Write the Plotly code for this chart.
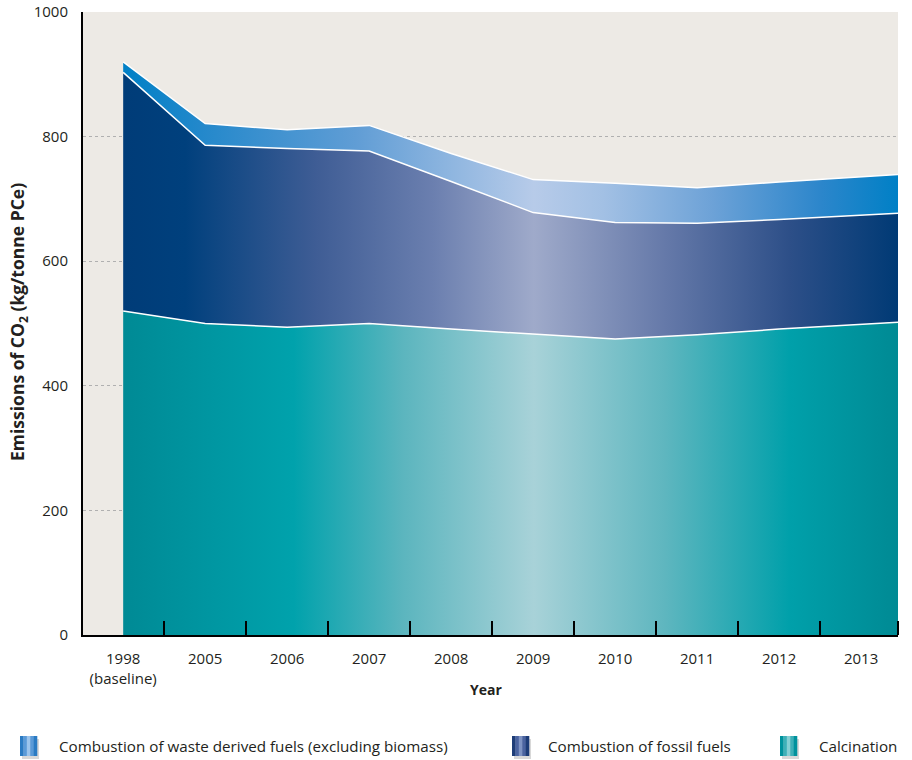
import plotly.graph_objects as go

# ---------------- data ----------------
year_labels = ["1998<br>(baseline)", "2005", "2006", "2007", "2008",
               "2009", "2010", "2011", "2012", "2013"]
x_pos = [0, 1, 2, 3, 4, 5, 6, 7, 8, 9.45]
calcination = [520, 500, 494, 500, 491, 483, 475, 482, 491, 502]
fossil_fuels = [383, 286, 287, 277, 237, 195, 187, 179, 176, 175]
waste_fuels = [17, 35, 30, 41, 45, 53, 63, 57, 60, 62]
y_ticks = [0, 200, 400, 600, 800, 1000]
legend_names = ["Combustion of waste derived fuels (excluding biomass)",
                "Combustion of fossil fuels", "Calcination"]

# ---------------- styling ----------------
W, H = 912, 760
L, R, T, B = 83, 14, 12, 125
PW, PH = W - L - R, H - T - B
FONT = "Open Sans"

calc_scale = [[0, '#008A95'], [0.12, '#0097A2'], [0.22, '#00A2AC'], [0.36, '#5BB5BE'],
              [0.53, '#A8D2D8'], [0.70, '#5EB6BF'], [0.86, '#00A0AA'], [1, '#008A94']]
fossil_scale = [[0, '#003C78'], [0.08, '#00407D'], [0.25, '#3F5D95'], [0.40, '#6B7FAF'],
                [0.53, '#9FAACA'], [0.70, '#6579A9'], [0.86, '#2D4F88'], [1, '#003A75']]
waste_scale = [[0, '#0080C6'], [0.10, '#2388CB'], [0.30, '#609DD5'], [0.53, '#B7CBE9'],
               [0.62, '#A2C0E4'], [0.76, '#6DA2D7'], [0.90, '#2C86CB'], [1, '#0080C6']]

fig = go.Figure()
for name, vals, scale in [(legend_names[2], calcination, calc_scale),
                          (legend_names[1], fossil_fuels, fossil_scale),
                          (legend_names[0], waste_fuels, waste_scale)]:
    fig.add_trace(go.Scatter(
        x=x_pos, y=vals, name=name, mode="lines", stackgroup="one",
        line=dict(color="white", width=1.5),
        fillgradient=dict(type="horizontal", colorscale=scale),
        showlegend=False, hoverinfo="skip"))

def px_x(p):
    return (p - L) / PW

def px_y(p):
    return (H - B - p) / PH

# custom legend
shapes = []
annotations = []
icon_specs = [
    (20, 57, legend_names[0], ['#2B7BC3', '#5A9AD8', '#9CC4EC', '#5A9AD8', '#2B7BC3']),
    (512, 546, legend_names[1], ['#1E3D78', '#4A63A0', '#7E93C3', '#4A63A0', '#1E3D78']),
    (780, 817, legend_names[2], ['#00929D', '#3DB0B8', '#86CFD4', '#3DB0B8', '#00929D']),
]
for ix, tx, label, cols in icon_specs:
    shapes.append(dict(type="rect", xref="paper", yref="paper",
                       x0=px_x(ix + 2), x1=px_x(ix + 19), y0=px_y(759), y1=px_y(739),
                       fillcolor="#D8D8D8", line=dict(width=0), layer="above"))
    n = len(cols)
    wseg = 17 / n
    for k, c in enumerate(cols):
        shapes.append(dict(type="rect", xref="paper", yref="paper",
                           x0=px_x(ix + k * wseg), x1=px_x(ix + (k + 1) * wseg + 0.3),
                           y0=px_y(756), y1=px_y(736),
                           fillcolor=c, line=dict(width=0), layer="above"))
    annotations.append(dict(text=label, xref="paper", yref="paper",
                            x=px_x(tx), y=px_y(746), xanchor="left", yanchor="middle",
                            showarrow=False, font=dict(family=FONT, size=15.2, color="#231F20")))

# axis titles
annotations.append(dict(text="<b>Emissions of CO<sub>2</sub> (kg/tonne PCe)</b>",
                        xref="paper", yref="paper", x=px_x(18), y=px_y(322),
                        xanchor="center", yanchor="middle", textangle=-90, showarrow=False,
                        font=dict(family=FONT, size=17.5, color="#231F20")))
annotations.append(dict(text="<b>Year</b>", xref="paper", yref="paper",
                        x=px_x(486), y=px_y(690), xanchor="center", yanchor="middle",
                        showarrow=False, font=dict(family=FONT, size=14, color="#231F20")))

fig.update_layout(
    width=W, height=H,
    margin=dict(l=L, r=R, t=T, b=B, autoexpand=False),
    paper_bgcolor="white", plot_bgcolor="#EDEAE5",
    font=dict(family=FONT, size=15, color="#231F20"),
    showlegend=False,
    shapes=shapes, annotations=annotations,
    xaxis=dict(
        range=[-0.49, 9.45], tickmode="array", tickvals=list(range(10)),
        ticktext=year_labels, ticks="outside", ticklen=9, tickcolor="rgba(0,0,0,0)",
        showgrid=False, zeroline=False, automargin=False,
        showline=True, linecolor="black", linewidth=2,
        minor=dict(tickmode="array", tickvals=[0.5, 1.5, 2.5, 3.5, 4.5, 5.5, 6.5, 7.5, 8.5, 9.45],
                   ticks="inside", ticklen=14, tickwidth=2, tickcolor="black", showgrid=False),
        tickfont=dict(family=FONT, size=15, color="#231F20"),
        fixedrange=True,
    ),
    yaxis=dict(
        range=[0, 1000], tickmode="array", tickvals=y_ticks,
        ticks="outside", ticklen=10, tickcolor="rgba(0,0,0,0)",
        showgrid=True, gridcolor="#B0B0B0", griddash="dot", gridwidth=1,
        zeroline=False, showline=True, linecolor="black", linewidth=2, automargin=False,
        tickfont=dict(family=FONT, size=15, color="#231F20"),
        fixedrange=True,
    ),
)

fig.write_html("out.html", config={"displayModeBar": False},
               post_script="document.body.style.margin='0';document.body.style.padding='0';")
